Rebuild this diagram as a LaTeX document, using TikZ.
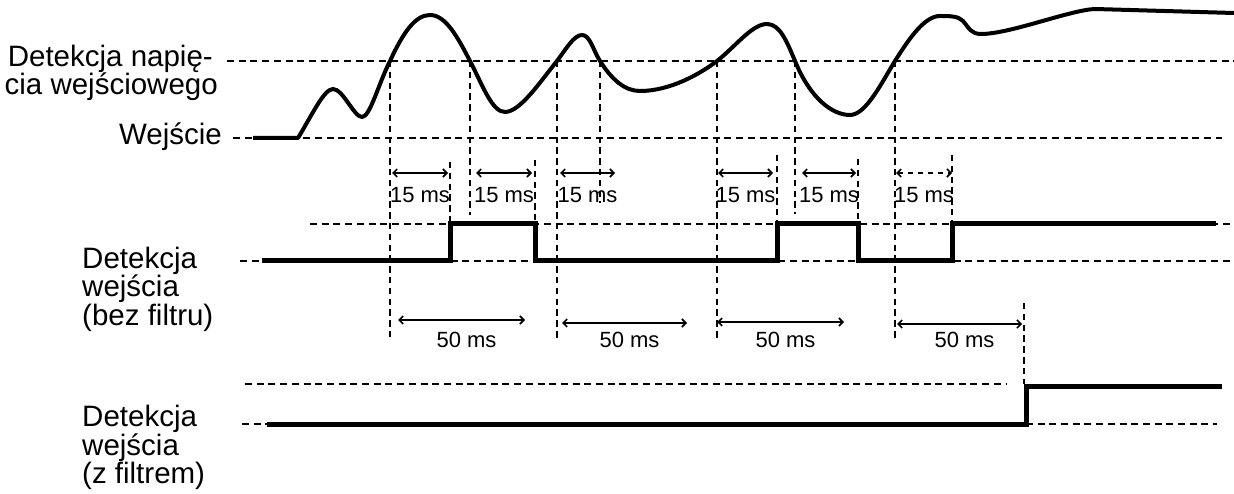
\documentclass[tikz,border=0pt]{standalone}
\usepackage{fontspec}
\setmainfont{Liberation Sans}
\usetikzlibrary{arrows.meta}
\begin{document}
\begin{tikzpicture}[x=1pt,y=-1pt,
  hdash/.style={line width=1.9pt, dash pattern=on 7pt off 4.7pt},
  vdash/.style={line width=1.9pt, dash pattern=on 6.5pt off 4.3pt},
  sig/.style={line width=4pt, line join=round},
  pulse/.style={line width=5pt, line join=miter},
  dim/.style={line width=1.6pt, {Straight Barb[length=4pt,width=8pt]}-{Straight Barb[length=4pt,width=8pt]}},
  lbl/.style={font=\fontsize{29.5}{28.5}\selectfont, inner sep=0pt},
  ms/.style={font=\fontsize{22}{24}\selectfont, inner sep=0pt, anchor=base}]
\useasboundingbox (0,0) rectangle (1234,494);

% --- labels (base anchor = baseline of the last line)
\node[lbl, font=\fontsize{29.5}{27}\selectfont, anchor=base east, align=right] (thrlbl) at (218,95) {Detekcja napię-\hspace*{5pt}\\cia wejściowego};
\node[lbl, anchor=base east] (inlbl) at (222,145) {Wejście};
\node[lbl, anchor=base west, align=left] (rawlbl) at (82,325) {Detekcja\\wejścia\\(bez filtru)};
\node[lbl, font=\fontsize{29.5}{27.5}\selectfont, anchor=base west, align=left] (fltlbl) at (82,483) {Detekcja\\wejścia\\(z filtrem)};

% --- reference levels
\coordinate (thrL) at (227,61);  \coordinate (thrR) at (1234,61);
\coordinate (inL)  at (233,138); \coordinate (inR)  at (1222,138);
\coordinate (rhL)  at (310,224); \coordinate (rhR)  at (1234,224);
\coordinate (rlL)  at (240,261); \coordinate (rlR)  at (1234,261);
\coordinate (fhL)  at (245,384); \coordinate (fhR)  at (1006,384);
\coordinate (flL)  at (242,424); \coordinate (flR)  at (1217,424);
\draw[hdash] (thrL) -- (thrR);
\draw[hdash] (inL) -- (inR);
\draw[hdash] (rhL) -- (rhR);
\draw[hdash] (rlL) -- (rlR);
\draw[hdash] (fhL) -- (fhR);
\draw[hdash] (flL) -- (flR);

% --- threshold crossings
\foreach \n/\x/\len in {1/390/276, 2/470/154, 3/557/277, 4/600/142, 5/717/279, 6/795/153, 7/895/279} {
  \coordinate (t\n) at (\x,61);
  \draw[vdash] (t\n) -- ++(0,\len);
}

% --- input waveform
\coordinate (s0) at (253,138);
\coordinate (s1) at (298,138);
\draw[sig] (s0) -- (s1)
  .. controls (312,115) and (324,89) .. (333,89)
  .. controls (343,89) and (354,117) .. (362,117)
  .. controls (370,117) and (378,85) .. (t1)
  .. controls (403,33) and (415,15) .. (430,15)
  .. controls (446,15) and (458,38) .. (t2)
  .. controls (483,86) and (492,112) .. (505,112)
  .. controls (520,112) and (540,82) .. (t3)
  .. controls (566,49) and (574,35) .. (582,35)
  .. controls (590,35) and (593,50) .. (t4)
  .. controls (612,80) and (625,91) .. (640,91)
  .. controls (670,91) and (700,74) .. (t5)
  .. controls (735,47) and (752,24) .. (767,24)
  .. controls (780,24) and (787,42) .. (t6)
  .. controls (810,98) and (832,115) .. (850,115)
  .. controls (866,115) and (882,82) .. (t7)
  .. controls (910,37) and (925,16) .. (940,16)
  .. controls (950,16) and (958,16) .. (963,21)
  .. controls (969,28) and (971,34) .. (981,34)
  .. controls (1010,34) and (1070,10) .. (1095,9)
  -- (1234,13);

% --- unfiltered detection
\coordinate (r0) at (262,261);
\coordinate (r1) at (450,261);  \coordinate (r2) at (450,224);
\coordinate (r3) at (535,224);  \coordinate (r4) at (535,261);
\coordinate (r5) at (777,261);  \coordinate (r6) at (777,224);
\coordinate (r7) at (858,224);  \coordinate (r8) at (858,261);
\coordinate (r9) at (952,261);  \coordinate (r10) at (952,224);
\coordinate (r11) at (1216,224);

% 15 ms end markers
\coordinate (k1) at (450,162); \draw[vdash] (k1) -- (r2);
\coordinate (k2) at (535,160); \draw[vdash] (k2) -- (r3);
\coordinate (k3) at (777,155); \draw[vdash] (k3) -- (r6);
\coordinate (k4) at (858,159); \draw[vdash] (k4) -- (r7);
\coordinate (k5) at (952,155); \draw[vdash] (k5) -- (r10);

\draw[pulse] (r0) -- (r1) -- (r2) -- (r3) -- (r4) -- (r5) -- (r6) -- (r7) -- (r8) -- (r9) -- (r10) -- (r11);

% 15 ms dimensions
\foreach \n/\a/\b in {1/392/448, 2/476/532, 3/560/615, 4/718/773, 5/802/856} {
  \coordinate (d\n l) at (\a,173);
  \coordinate (d\n r) at (\b,173);
  \draw[dim] (d\n l) -- (d\n r);
  \node[ms] (ld\n) at ({(\a+\b)/2},203) {15 ms};
}
\coordinate (d6l) at (896,173);
\coordinate (d6r) at (952,173);
\draw[dim, dash pattern=on 5pt off 5pt] (d6l) -- (d6r);
\node[ms] (ld6) at (924,203) {15 ms};

% 50 ms dimensions
\foreach \n/\a/\b/\y in {1/398/525/320, 2/562/687/323, 3/717/844/322, 4/897/1022/324} {
  \coordinate (e\n l) at (\a,\y);
  \coordinate (e\n r) at (\b,\y);
  \draw[dim] (e\n l) -- (e\n r);
  \node[ms] (le\n) at ({(\a+\b)/2+5},347) {50 ms};
}

% --- filtered detection
\coordinate (f0) at (267,424);
\coordinate (f1) at (1026,424);
\coordinate (f2) at (1026,386);
\coordinate (f3) at (1222,386);
\coordinate (k6) at (1024,303);
\coordinate (k6b) at (1024,384);
\draw[vdash] (k6) -- (k6b);
\draw[pulse] (f0) -- (f1) -- (f2) -- (f3);
\end{tikzpicture}
\end{document}
